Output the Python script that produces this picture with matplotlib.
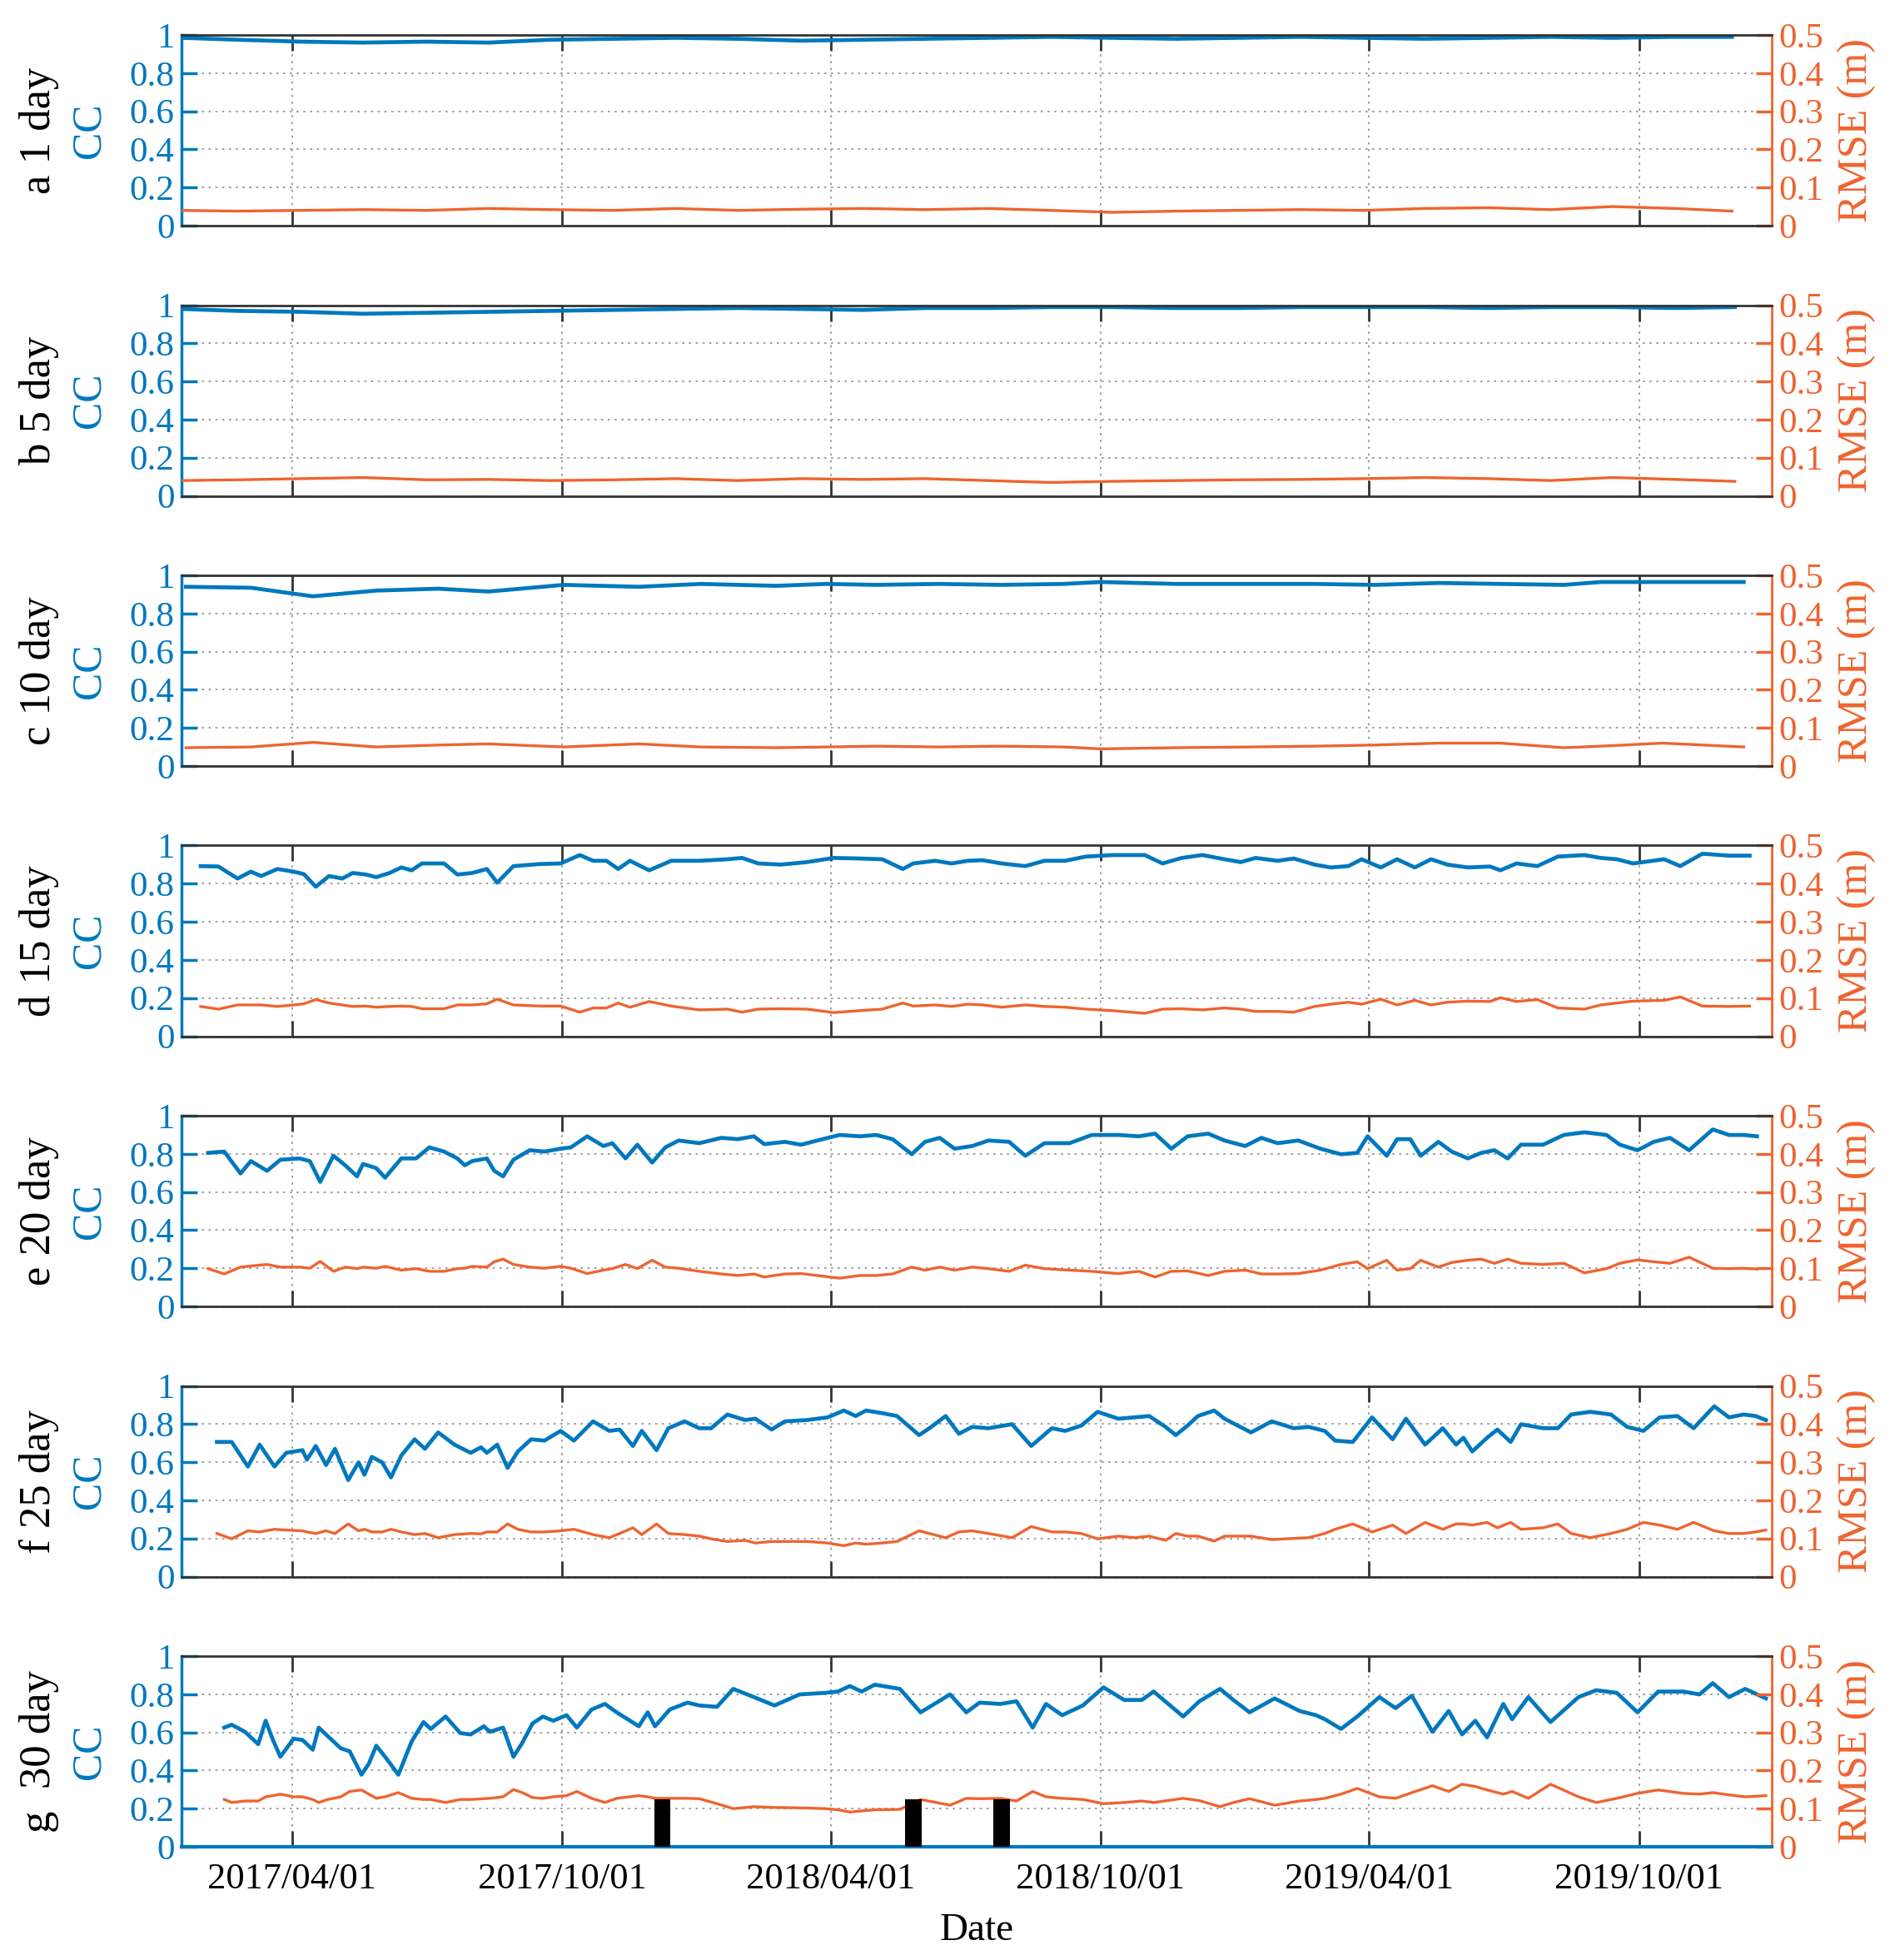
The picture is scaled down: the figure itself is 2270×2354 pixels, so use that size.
import datetime as dt
import matplotlib
matplotlib.use("Agg")
import matplotlib.pyplot as plt
import matplotlib.dates as mdates

plt.rcParams['font.family'] = ['Liberation Serif', 'DejaVu Serif']

BLUE = "#0078BE"
ORANGE = "#EE6430"
SPINE = "#333333"
GRID = "#9a9a9a"

# all x values are day offsets from 2017/04/01
t0 = dt.date(2017, 4, 1)

day_a = [-75, -37, 6, 48, 91, 133, 175, 218, 260, 302, 345, 387, 429, 472, 514, 556, 599, 641, 684, 726,
         768, 811, 853, 895, 938, 976]
cc_a = [0.985, 0.975, 0.965, 0.96, 0.965, 0.96, 0.975, 0.98, 0.985, 0.98, 0.97, 0.975, 0.98, 0.985, 0.99,
        0.985, 0.98, 0.985, 0.99, 0.985, 0.98, 0.985, 0.99, 0.985, 0.99, 0.99]
rmse_a = [0.04, 0.038, 0.04, 0.042, 0.04, 0.045, 0.042, 0.04, 0.045, 0.04, 0.043, 0.045, 0.042, 0.045, 0.04,
          0.035, 0.038, 0.04, 0.042, 0.04, 0.045, 0.047, 0.042, 0.05, 0.045, 0.038]

day_b = [-75, -37, 6, 48, 91, 133, 175, 218, 260, 302, 345, 387, 429, 472, 514, 556, 599, 641, 684, 726,
         768, 811, 853, 895, 938, 978]
cc_b = [0.98, 0.97, 0.965, 0.955, 0.96, 0.965, 0.97, 0.975, 0.98, 0.985, 0.98, 0.975, 0.985, 0.985, 0.99,
        0.99, 0.985, 0.985, 0.99, 0.99, 0.99, 0.985, 0.99, 0.99, 0.985, 0.99]
rmse_b = [0.04, 0.042, 0.045, 0.048, 0.042, 0.043, 0.04, 0.042, 0.045, 0.04, 0.045, 0.043, 0.045, 0.04, 0.035,
          0.038, 0.04, 0.042, 0.043, 0.045, 0.048, 0.045, 0.04, 0.048, 0.043, 0.038]

day_c = [-72, -28, 14, 57, 99, 133, 184, 235, 277, 328, 362, 396, 438, 480, 523, 548, 599, 650, 692, 734,
         777, 819, 862, 887, 929, 984]
cc_c = [0.94, 0.935, 0.89, 0.92, 0.93, 0.915, 0.95, 0.94, 0.955, 0.945, 0.955, 0.95, 0.955, 0.95, 0.955,
        0.965, 0.955, 0.955, 0.955, 0.95, 0.96, 0.955, 0.95, 0.965, 0.965, 0.965]
rmse_c = [0.048, 0.05, 0.062, 0.05, 0.055, 0.058, 0.05, 0.058, 0.05, 0.048, 0.05, 0.052, 0.05, 0.052, 0.05,
          0.045, 0.048, 0.05, 0.052, 0.055, 0.06, 0.06, 0.048, 0.052, 0.06, 0.05]

day_d = [-62, -50, -37, -28, -21, -10, 1, 8, 16, 25, 34, 41, 50, 57, 66, 74, 81, 88, 103, 112,
         122, 132, 139, 150, 168, 182, 195, 204, 213, 221, 229, 242, 257, 276, 295, 305, 316, 331, 349, 367,
         385, 400, 414, 421, 436, 447, 458, 468, 481, 497, 510, 524, 538, 556, 578, 590, 603, 617,
         632, 643, 653, 668, 679, 693, 704, 716, 725, 738, 749, 761, 772, 783, 797, 812, 819, 830, 844, 858,
         876, 887, 898, 909, 930, 941, 956, 974, 988]
cc_d = [0.892, 0.89, 0.827, 0.863, 0.84, 0.877, 0.863, 0.85, 0.784, 0.84, 0.827, 0.856, 0.848, 0.834, 0.856,
        0.885, 0.87, 0.906, 0.906, 0.848, 0.856, 0.877, 0.805, 0.892, 0.903, 0.906, 0.95, 0.92, 0.92, 0.877,
        0.92, 0.87, 0.92, 0.92, 0.928, 0.935, 0.906, 0.9, 0.913, 0.935, 0.932, 0.928, 0.877, 0.906, 0.92,
        0.906, 0.92, 0.923, 0.906, 0.892, 0.92, 0.92, 0.942, 0.95, 0.95, 0.906, 0.935, 0.95,
        0.928, 0.913, 0.935, 0.92, 0.932, 0.9, 0.885, 0.892, 0.928, 0.885, 0.928, 0.885, 0.928, 0.9, 0.885,
        0.89, 0.87, 0.906, 0.892, 0.942, 0.95, 0.935, 0.928, 0.906, 0.928, 0.892, 0.957, 0.947, 0.947]
rmse_d = [0.078, 0.071, 0.082, 0.082, 0.082, 0.078, 0.082, 0.085, 0.096, 0.087, 0.082, 0.078, 0.079, 0.076,
          0.078, 0.079, 0.078, 0.072, 0.072, 0.082, 0.082, 0.085, 0.097, 0.082, 0.079, 0.079, 0.063, 0.074,
          0.074, 0.087, 0.076, 0.091, 0.079, 0.069, 0.071, 0.063, 0.071, 0.072, 0.071, 0.062, 0.067, 0.071,
          0.087, 0.079, 0.082, 0.078, 0.084, 0.082, 0.076, 0.082, 0.078, 0.076, 0.071, 0.067, 0.060, 0.071,
          0.072, 0.069, 0.074, 0.071, 0.065, 0.065, 0.063, 0.078, 0.084, 0.089, 0.084, 0.097, 0.082, 0.094,
          0.082, 0.089, 0.092, 0.091, 0.101, 0.091, 0.096, 0.074, 0.071, 0.082, 0.087, 0.092, 0.094, 0.103,
          0.079, 0.078, 0.079]

day_e = [-57, -46, -35, -28, -17, -8, 5, 12, 19, 28, 36, 44, 48, 57, 63, 74, 84, 93, 103, 112,
         117, 122, 132, 137, 143, 150, 161, 171, 182, 189, 200, 211, 217, 226, 234, 244, 253, 262, 276, 291,
         302, 313, 320, 334, 345, 356, 371, 385, 396, 407, 420, 429, 439, 449, 461, 472,
         486, 497, 510, 527, 542, 560, 574, 585, 596, 607, 621, 632, 646, 657, 668, 682, 697, 711, 722, 729,
         742, 749, 758, 765, 777, 786, 797, 806, 815, 824, 833, 848, 862, 876, 891, 900, 912, 923, 934, 947,
         963, 974, 984, 993]
cc_e = [0.805, 0.812, 0.697, 0.762, 0.711, 0.769, 0.776, 0.762, 0.653, 0.79, 0.74, 0.682, 0.747, 0.725, 0.675,
        0.776, 0.776, 0.834, 0.812, 0.776, 0.74, 0.762, 0.776, 0.711, 0.682, 0.769, 0.819, 0.812, 0.827, 0.834,
        0.892, 0.841, 0.856, 0.776, 0.848, 0.754, 0.834, 0.87, 0.856, 0.884, 0.877, 0.892, 0.851, 0.863, 0.848,
        0.87, 0.899, 0.892, 0.899, 0.877, 0.798, 0.863, 0.884, 0.827, 0.841, 0.87,
        0.863, 0.79, 0.856, 0.856, 0.899, 0.899, 0.892, 0.906, 0.827, 0.892, 0.906, 0.87, 0.841, 0.884, 0.856,
        0.87, 0.827, 0.798, 0.805, 0.892, 0.79, 0.877, 0.877, 0.79, 0.863, 0.812, 0.776, 0.805, 0.819, 0.776,
        0.848, 0.848, 0.899, 0.913, 0.899, 0.848, 0.819, 0.863, 0.884, 0.819, 0.928, 0.899, 0.899, 0.892]
rmse_e = [0.099, 0.085, 0.103, 0.106, 0.110, 0.103, 0.103, 0.100, 0.118, 0.092, 0.103, 0.099, 0.103, 0.100,
          0.105, 0.095, 0.099, 0.092, 0.092, 0.099, 0.100, 0.105, 0.103, 0.117, 0.124, 0.110, 0.103, 0.100,
          0.105, 0.100, 0.086, 0.095, 0.099, 0.110, 0.099, 0.121, 0.103, 0.100, 0.092, 0.085, 0.081, 0.085,
          0.077, 0.085, 0.086, 0.081, 0.074, 0.081, 0.081, 0.085, 0.103, 0.095, 0.103, 0.095, 0.103, 0.099,
          0.092, 0.108, 0.099, 0.095, 0.092, 0.086, 0.092, 0.077, 0.092, 0.093, 0.081, 0.092, 0.095, 0.085,
          0.085, 0.086, 0.095, 0.110, 0.117, 0.099, 0.121, 0.095, 0.099, 0.121, 0.103, 0.115, 0.121, 0.124,
          0.113, 0.124, 0.113, 0.110, 0.113, 0.088, 0.099, 0.113, 0.122, 0.117, 0.113, 0.129, 0.100, 0.099,
          0.100, 0.098]

day_f = [-51, -41, -30, -22, -12, -4, 7, 10, 16, 23, 29, 38, 45, 49, 54, 61, 67, 74, 83, 90,
         99, 110, 121, 128, 132, 139, 146, 153, 162, 171, 182, 191, 204, 215, 222, 231, 237, 247, 255, 266,
         276, 284, 295, 307, 314, 325, 334, 349, 363, 374, 382, 389, 400, 410, 425, 432, 443, 452, 461, 472,
         488, 501, 515, 524, 535, 546, 560, 571, 581, 592, 599, 607, 614, 625, 632, 650, 664, 679, 689, 700,
         707, 719, 732, 746, 755, 768, 780, 789, 794, 800, 810, 817, 826, 833, 848, 858, 867, 880, 894, 905,
         916, 927, 939, 950, 964, 974, 984, 992, 999]
cc_f = [0.706, 0.706, 0.577, 0.692, 0.577, 0.649, 0.663, 0.613, 0.685, 0.585, 0.67, 0.506, 0.599, 0.534, 0.628,
        0.599, 0.52, 0.635, 0.72, 0.67, 0.756, 0.692, 0.649, 0.678, 0.649, 0.692, 0.57, 0.656, 0.72, 0.713,
        0.764, 0.713, 0.814, 0.764, 0.771, 0.685, 0.764, 0.663, 0.778, 0.814, 0.778, 0.778, 0.85, 0.821, 0.828,
        0.771, 0.814, 0.821, 0.835, 0.871, 0.842, 0.871, 0.857, 0.842, 0.742, 0.778, 0.842, 0.749, 0.785, 0.778,
        0.799, 0.685, 0.778, 0.764, 0.792, 0.864, 0.828, 0.835, 0.842, 0.785, 0.742, 0.792, 0.842, 0.871, 0.828,
        0.756, 0.814, 0.778, 0.785, 0.764, 0.713, 0.706, 0.835, 0.72, 0.828, 0.692, 0.778, 0.692, 0.728, 0.656,
        0.728, 0.771, 0.706, 0.799, 0.778, 0.778, 0.85, 0.864, 0.85, 0.785, 0.764, 0.835, 0.842, 0.778, 0.893,
        0.835, 0.85, 0.842, 0.821]
rmse_f = [0.113, 0.099, 0.120, 0.117, 0.124, 0.122, 0.120, 0.117, 0.113, 0.120, 0.113, 0.138, 0.120, 0.124,
          0.117, 0.117, 0.124, 0.117, 0.110, 0.113, 0.102, 0.110, 0.113, 0.112, 0.117, 0.117, 0.138, 0.124,
          0.117, 0.117, 0.120, 0.124, 0.110, 0.102, 0.113, 0.128, 0.110, 0.138, 0.113, 0.110, 0.106, 0.099,
          0.092, 0.095, 0.088, 0.092, 0.092, 0.092, 0.088, 0.081, 0.088, 0.085, 0.088, 0.092, 0.120, 0.113,
          0.102, 0.117, 0.120, 0.113,
          0.102, 0.131, 0.117, 0.117, 0.113, 0.099, 0.106, 0.102, 0.106, 0.095, 0.113, 0.106, 0.106, 0.093,
          0.106, 0.106, 0.097, 0.100, 0.102, 0.113, 0.124, 0.138, 0.117, 0.135, 0.113, 0.142, 0.124, 0.138,
          0.138, 0.135, 0.142, 0.128, 0.142, 0.124, 0.128, 0.138, 0.113, 0.102, 0.113, 0.124, 0.142, 0.135,
          0.124, 0.142, 0.120, 0.113, 0.113, 0.117, 0.122]

day_g = [-46, -41, -32, -23, -18, -13, -8, 1, 7, 14, 18, 24, 33, 39, 47, 52, 57, 63, 72, 81,
         89, 94, 104, 114, 121, 130, 134, 143, 150, 156, 163, 170, 177, 186, 193, 203, 212, 220, 235, 241, 246,
         256, 268, 276, 288, 299, 313, 327, 344, 361, 370, 378, 386, 395, 412, 426, 446, 457, 466, 480, 491,
         502, 511, 522, 536, 550, 564, 576, 584, 604, 615, 629, 638, 649, 666, 683, 694, 700, 711, 722, 737,
         748, 759, 773, 784, 793, 802, 810, 821, 827, 838, 853, 872, 884, 898, 912, 926, 943, 954, 963, 974,
         985, 999]
cc_g = [0.625, 0.64, 0.603, 0.538, 0.661, 0.56, 0.472, 0.567, 0.56, 0.509, 0.625, 0.581, 0.516, 0.501, 0.378,
        0.436, 0.53, 0.472, 0.378, 0.552, 0.654, 0.618, 0.683, 0.596, 0.589, 0.632, 0.603, 0.625, 0.472, 0.545,
        0.647, 0.683, 0.661, 0.69, 0.625, 0.72, 0.749, 0.705, 0.632, 0.705, 0.632,
        0.72, 0.756, 0.741, 0.734, 0.828, 0.785, 0.741, 0.799, 0.807, 0.814, 0.843, 0.814, 0.85, 0.828, 0.705,
        0.799, 0.705, 0.756, 0.749, 0.763, 0.625, 0.749, 0.69, 0.741, 0.836, 0.77, 0.77, 0.814, 0.683, 0.763,
        0.828, 0.77, 0.705, 0.778, 0.712, 0.69, 0.669, 0.618, 0.683, 0.785, 0.727, 0.792, 0.603, 0.712, 0.589,
        0.661, 0.574, 0.749, 0.669, 0.785, 0.654, 0.785, 0.821, 0.807, 0.705, 0.814, 0.814, 0.799, 0.858, 0.785,
        0.828, 0.778]
rmse_g = [0.124, 0.116, 0.120, 0.120, 0.131, 0.134, 0.138, 0.131, 0.131, 0.124, 0.116, 0.124, 0.131, 0.145,
          0.149, 0.138, 0.127, 0.131, 0.142, 0.127, 0.124, 0.124, 0.116, 0.124, 0.124, 0.126, 0.127, 0.131,
          0.150, 0.142, 0.129, 0.127, 0.131, 0.134, 0.145, 0.127, 0.116, 0.127, 0.134, 0.131, 0.127,
          0.127, 0.127, 0.126, 0.113, 0.100, 0.105, 0.103, 0.102, 0.100, 0.097, 0.091, 0.094, 0.097, 0.098,
          0.124, 0.109, 0.127, 0.126, 0.127, 0.120, 0.145, 0.131, 0.127, 0.124, 0.113, 0.116, 0.120, 0.116,
          0.127, 0.121, 0.105, 0.116, 0.126, 0.109, 0.120, 0.124, 0.127, 0.138, 0.153, 0.131, 0.127, 0.142,
          0.160, 0.145, 0.164, 0.158, 0.149, 0.138, 0.145, 0.127, 0.164, 0.131, 0.116, 0.127, 0.140, 0.149,
          0.140, 0.138, 0.142, 0.136, 0.131, 0.134]

# black bars in panel g (centre day, RMSE-axis height)
bar_days = [251, 421, 481]
bar_height = 0.125
bar_width = 11

names = ["a 1 day", "b 5 day", "c 10 day", "d 15 day", "e 20 day", "f 25 day", "g  30 day"]
panels = [(day_a, cc_a, rmse_a), (day_b, cc_b, rmse_b), (day_c, cc_c, rmse_c), (day_d, cc_d, rmse_d),
          (day_e, cc_e, rmse_e), (day_f, cc_f, rmse_f), (day_g, cc_g, rmse_g)]

tick_dates = [dt.date(2017, 4, 1), dt.date(2017, 10, 1), dt.date(2018, 4, 1),
              dt.date(2018, 10, 1), dt.date(2019, 4, 1), dt.date(2019, 10, 1)]
tick_labels = ["2017/04/01", "2017/10/01", "2018/04/01", "2018/10/01", "2019/04/01", "2019/10/01"]
cc_ticks = [0, 0.2, 0.4, 0.6, 0.8, 1]
cc_labels = ["0", "0.2", "0.4", "0.6", "0.8", "1"]
rmse_ticks = [0, 0.1, 0.2, 0.3, 0.4, 0.5]
rmse_labels = ["0", "0.1", "0.2", "0.3", "0.4", "0.5"]


def to_num(days):
    return [mdates.date2num(t0 + dt.timedelta(days=d)) for d in days]


W, H = 2270, 2354
fig = plt.figure(figsize=(W / 100, H / 100), dpi=100)
x0 = mdates.date2num(dt.date(2017, 1, 16))
x1 = mdates.date2num(dt.date(2019, 12, 30))

for i, (name, (days, cc, rmse)) in enumerate(zip(names, panels)):
    top = 42 + i * 324.5
    ax = fig.add_axes([218 / W, 1 - (top + 229) / H, 1910 / W, 229 / H])
    ax2 = ax.twinx()
    x = to_num(days)

    ax.set_axisbelow(True)
    ax.grid(True, linestyle=(0, (1.5, 3)), color=GRID, linewidth=1.3)
    ax.plot(x, cc, color=BLUE, linewidth=3.4)
    ax2.plot(x, rmse, color=ORANGE, linewidth=2.4)
    if i == 6:
        ax2.bar(to_num(bar_days), [bar_height] * len(bar_days), width=bar_width, color="black", zorder=3)

    ax.set_xlim(x0, x1)
    ax.set_ylim(0, 1)
    ax2.set_ylim(0, 0.5)
    ax.set_xticks([mdates.date2num(d) for d in tick_dates])
    ax.set_yticks(cc_ticks)
    ax.set_yticklabels(cc_labels)
    ax2.set_yticks(rmse_ticks)
    ax2.set_yticklabels(rmse_labels)

    ax.tick_params(axis="x", direction="in", top=True, bottom=True, length=14, width=2,
                   color=SPINE, labelsize=32, pad=14, labelbottom=(i == 6))
    if i == 6:
        ax.set_xticklabels(tick_labels)
    ax.tick_params(axis="y", direction="in", length=14, width=2.5, colors=BLUE, labelsize=31, pad=6)
    ax2.tick_params(axis="y", direction="in", length=14, width=2.5, colors=ORANGE, labelsize=31, pad=6)

    for s in ("top", "bottom", "right"):
        ax.spines[s].set_visible(False)
    ax.spines["left"].set_color(BLUE)
    ax.spines["left"].set_linewidth(2.5)
    ax2.spines["left"].set_visible(False)
    ax2.spines["right"].set_color(ORANGE)
    ax2.spines["right"].set_linewidth(2)
    for s in ("top", "bottom"):
        ax2.spines[s].set_color(SPINE)
        ax2.spines[s].set_linewidth(2)
    if i == 6:
        ax2.spines["bottom"].set_color(BLUE)
        ax2.spines["bottom"].set_linewidth(3)

    ax.text(-0.0895, 0.5, name, transform=ax.transAxes, rotation=90, ha="center", va="center",
            fontsize=38, color="black")
    ax.text(-0.058, 0.5, "CC", transform=ax.transAxes, rotation=90, ha="center", va="center",
            fontsize=36, color=BLUE)
    ax2.text(1.0534, 0.5, "RMSE (m)", transform=ax2.transAxes, rotation=90, ha="center", va="center",
             fontsize=36, color=ORANGE)

fig.text(1173 / W, 1 - 2319 / H, "Date", ha="center", va="center", fontsize=34)

fig.savefig("out.png", dpi=100)
